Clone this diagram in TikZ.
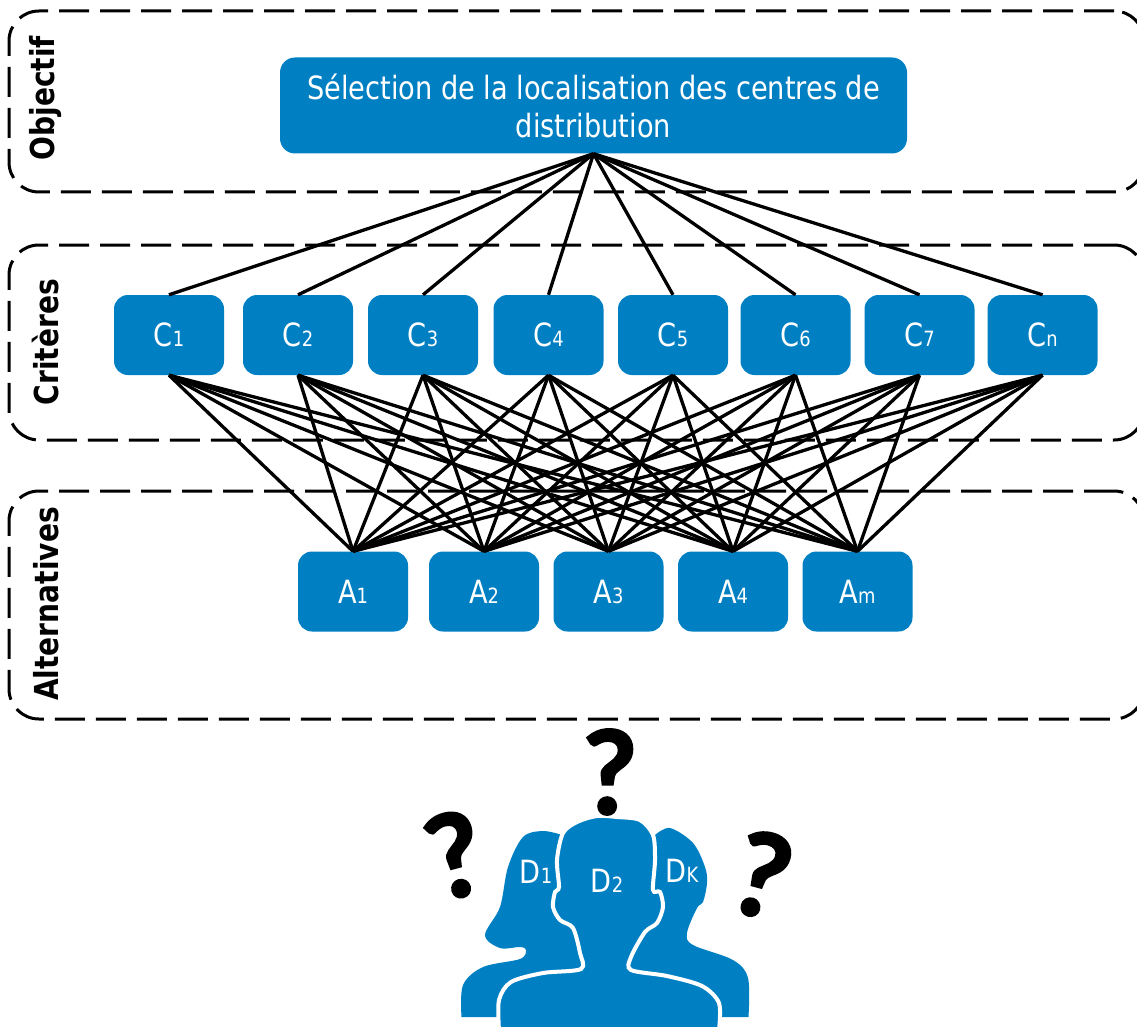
\documentclass[tikz,border=0pt]{standalone}
\usepackage{fontspec}
\setmainfont[FakeStretch=0.945]{DejaVu Sans Condensed}
\newfontfamily\askfont[BoldFeatures={FakeBold=2}]{Lato}
\definecolor{boxblue}{HTML}{0080C3}
\newcommand{\idx}[1]{{\fontsize{21}{21}\selectfont #1}}
\tikzset{
  framebox/.style={draw=black,line width=3pt,dash pattern=on 30pt off 11pt,rounded corners=30pt,inner sep=0pt},
  levellabel/.style={rotate=90,font=\fontsize{33}{33}\selectfont\bfseries,inner sep=0pt},
  itembox/.style={fill=boxblue,text=white,rounded corners=14pt,minimum width=110pt,minimum height=80pt,inner sep=0pt,font=\fontsize{32}{38}\selectfont},
  goalbox/.style={itembox,minimum width=627pt,minimum height=96pt,rounded corners=15pt,align=center},
  link/.style={draw=black,line width=3.3pt},
  personlabel/.style={text=white,inner sep=0pt,font=\fontsize{32}{38}\selectfont},
  asking/.style={inner sep=0pt,font=\askfont\bfseries\fontsize{116}{116}\selectfont}
}
\begin{document}
\begin{tikzpicture}[x=1pt,y=-1pt]
\path[use as bounding box,clip] (0,0) rectangle (1137,1027);
% levels
\node[framebox,minimum width=1135pt,minimum height=181pt] (objframe) at (576.5,101.5) {};
\node[framebox,minimum width=1135pt,minimum height=195pt] (critframe) at (576.5,342.5) {};
\node[framebox,minimum width=1135pt,minimum height=228pt] (altframe) at (576.5,605) {};
\node[levellabel] (objlabel) at (46,98) {Objectif};
\node[levellabel] (critlabel) at (46,342) {Critères};
\node[levellabel] (altlabel) at (46,604) {Alternatives};
% boxes
\node[goalbox] (goal) at (593.5,105.5) {Sélection de la localisation des centres de\\distribution};
\foreach \x/\i in {169/1,298/2,423/3,548.5/4,673/5,795.5/6,919.5/7,1042.5/n}
  \node[itembox] (c\i) at (\x,335) {C\idx{\i}};
\foreach \x/\j in {353/1,484/2,608.5/3,733/4,857.5/m}
  \node[itembox] (a\j) at (\x,591.5) {A\idx{\j}};
% links
\foreach \i in {1,2,3,4,5,6,7,n}{
  \draw[link] (goal.south) -- (c\i.north);
  \foreach \j in {1,2,3,4,m}
    \draw[link] (c\i.south) -- (a\j.north);
}
% decision makers
\fill[boxblue] plot[smooth,tension=0.55] coordinates {(461.5,1017) (463,985) (483,967) (520,959) (526,950) (520,947) (500,948) (485,935) (500,907) (508,867) (523,837) (543,831) (562,835)} -- (600,900) -- (600,1017) -- cycle;
\fill[boxblue] plot[smooth,tension=0.55] coordinates {(655,835) (670,828) (693,843) (705,867) (707,883) (703,902) (697,908) (687,933) (693,945) (733,960) (748,978) (748.5,1017)} -- (600,1017) -- (600,900) -- cycle;
\filldraw[fill=boxblue,draw=white,line width=4pt] plot[smooth,tension=0.5] coordinates {(499,1030) (499,1000) (511,982) (543,973) (581,969) (580,953) (573,928) (560,920) (553,907) (555,892) (559,887) (557,860) (563,833) (577,822) (597,816) (617,817) (640,820) (653,835) (655,860) (653,890) (660,892) (663,907) (657,923) (645,932) (631,957) (631,970) (667,976) (702,986) (719,1003) (719,1030)} -- cycle;
\node[personlabel] (d1) at (536,872) {D\idx{1}};
\node[personlabel] (d2) at (607,881) {D\idx{2}};
\node[personlabel] (dk) at (682,871) {D\idx{K}};
\node[asking] (asktop) at (610,772) {?};
\node[asking,rotate=15] (askleft) at (455,855) {?};
\node[asking,rotate=-15] (askright) at (762,875) {?};
\end{tikzpicture}
\end{document}
